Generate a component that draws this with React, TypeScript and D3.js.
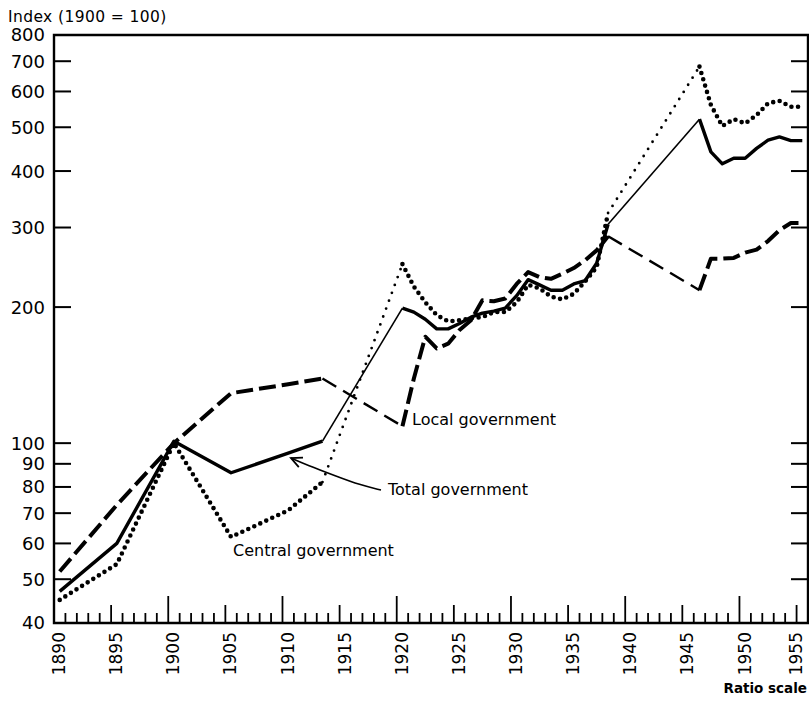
import React from 'react';
import { scaleLinear, scaleLog, line, range, curveBasis } from 'd3';

const years = [
  1890, 1895, 1900, 1905, 1910, 1913, 1920, 1921, 1922, 1923, 1924, 1925, 1926, 1927,
  1928, 1929, 1930, 1931, 1932, 1933, 1934, 1935, 1936, 1937, 1938, 1946, 1947, 1948,
  1949, 1950, 1951, 1952, 1953, 1954, 1955,
];

const totalGov = [
  47, 60, 101, 86, 95, 101, 199, 195, 188, 179, 179, 184, 190, 194,
  196, 199, 212, 230, 224, 218, 218, 225, 229, 250, 305, 521, 441, 415,
  427, 427, 449, 468, 476, 467, 467,
];

const centralGov = [
  45, 54, 100, 62, 71, 82, 249, 222, 205, 192, 186, 187, 189, 190,
  195, 195, 205, 224, 220, 211, 208, 214, 228, 245, 323, 681, 560, 503,
  521, 510, 532, 565, 572, 555, 555,
];

const localGov = [
  52, 73, 100, 129, 135, 139, 109, 139, 172, 162, 166, 178, 187, 207,
  206, 209, 225, 239, 233, 231, 237, 244, 254, 267, 287, 218, 256, 256,
  257, 264, 268, 280, 296, 307, 307,
];

// years after which the series has no annual data (drawn thin)
const gapStarts = [1913, 1938];

const yTicks = [40, 50, 60, 70, 80, 90, 100, 200, 300, 400, 500, 600, 700, 800];
const yearLabels = range(1890, 1956, 5);

const FONT = '"DejaVu Sans", sans-serif';

type Pt = [number, number];

function splitSegments(vals: number[]) {
  const segs: { thin: boolean; pts: Pt[] }[] = [];
  let cur: Pt[] = [[years[0], vals[0]]];
  for (let i = 1; i < years.length; i++) {
    if (gapStarts.includes(years[i - 1])) {
      segs.push({ thin: false, pts: cur });
      segs.push({
        thin: true,
        pts: [
          [years[i - 1], vals[i - 1]],
          [years[i], vals[i]],
        ],
      });
      cur = [[years[i], vals[i]]];
    } else {
      cur.push([years[i], vals[i]]);
    }
  }
  segs.push({ thin: false, pts: cur });
  return segs;
}

export default function App() {
  const left = 54;
  const right = 808;
  const top = 35;
  const bottom = 623;

  const x = scaleLinear().domain([1890, 1956]).range([left, right]);
  const y = scaleLog().domain([40, 800]).range([bottom, top]);

  const path = line<Pt>()
    .x((d) => x(d[0] + 0.5))
    .y((d) => y(d[1]));

  const styles = {
    total: {
      thick: { strokeWidth: 3.4 },
      thin: { strokeWidth: 1.6 },
    },
    central: {
      thick: { strokeWidth: 4.6, strokeDasharray: '0 6.6', strokeLinecap: 'round' as const },
      thin: { strokeWidth: 2.8, strokeDasharray: '0 8.4', strokeLinecap: 'round' as const },
    },
    local: {
      thick: { strokeWidth: 4, strokeDasharray: '17 6' },
      thin: { strokeWidth: 2.4, strokeDasharray: '16 8' },
    },
  };

  const series = [
    { key: 'local', vals: localGov, st: styles.local },
    { key: 'total', vals: totalGov, st: styles.total },
    { key: 'central', vals: centralGov, st: styles.central },
  ];

  // arrow from "Total government" label to its line
  const arrowPts: Pt[] = [
    [381, 490],
    [360, 485],
    [336, 476],
    [307, 465],
    [291, 458],
  ];
  const arrowLine = line<Pt>()
    .x((d) => d[0])
    .y((d) => d[1])
    .curve(curveBasis);
  const tip = arrowPts[arrowPts.length - 1];
  const prev = arrowPts[arrowPts.length - 2];
  const ang = Math.atan2(tip[1] - prev[1], tip[0] - prev[0]);
  const headLen = 12;
  const headA = 0.45;
  const head = [
    [tip[0] - headLen * Math.cos(ang - headA), tip[1] - headLen * Math.sin(ang - headA)],
    tip,
    [tip[0] - headLen * Math.cos(ang + headA), tip[1] - headLen * Math.sin(ang + headA)],
  ];

  return (
    <svg
      width={809}
      height={701}
      style={{ position: 'absolute', left: 0, top: 0, background: '#fff' }}
      fontFamily={FONT}
    >
      <rect width={809} height={701} fill="#fff" />

      {/* frame */}
      <path
        d={`M${left},${bottom}V${top}H${right}V${bottom}Z`}
        fill="none"
        stroke="#000"
        strokeWidth={2.4}
      />

      {/* y ticks, both sides */}
      {yTicks.map((t) => (
        <g key={t}>
          {t !== 40 && t !== 800 && (
            <>
              <line x1={left} x2={left + 17} y1={y(t)} y2={y(t)} stroke="#000" strokeWidth={2} />
              <line x1={right} x2={right - 17} y1={y(t)} y2={y(t)} stroke="#000" strokeWidth={2} />
            </>
          )}
          <text
            x={45}
            y={y(t)}
            dy="0.36em"
            textAnchor="end"
            fontSize={18}
            fill="#000"
          >
            {t}
          </text>
        </g>
      ))}

      {/* x ticks */}
      {range(1891, 1956).map((yr) => {
        const h = yr % 10 === 0 ? 27 : yr % 5 === 0 ? 18 : 10;
        return (
          <line
            key={yr}
            x1={x(yr)}
            x2={x(yr)}
            y1={bottom}
            y2={bottom - h}
            stroke="#000"
            strokeWidth={1.8}
          />
        );
      })}
      {yearLabels.map((yr) => (
        <text
          key={yr}
          transform={`translate(${Math.min(x(yr) + 5, 796)},632) rotate(-90)`}
          dy="0.36em"
          textAnchor="end"
          fontSize={17}
          fill="#000"
        >
          {yr}
        </text>
      ))}

      {/* series */}
      {series.map((s) =>
        splitSegments(s.vals).map((seg, i) => (
          <path
            key={s.key + i}
            d={path(seg.pts) || ''}
            fill="none"
            stroke="#000"
            strokeLinejoin="round"
            {...(seg.thin ? s.st.thin : s.st.thick)}
          />
        ))
      )}

      {/* annotations */}
      <text x={412} y={425} fontSize={16} fill="#000">
        Local government
      </text>
      <text x={388} y={495} fontSize={16} fill="#000">
        Total government
      </text>
      <text x={233} y={556} fontSize={16} fill="#000">
        Central government
      </text>
      <path d={arrowLine(arrowPts) || ''} fill="none" stroke="#000" strokeWidth={1.6} />
      <path
        d={`M${head[0][0]},${head[0][1]}L${head[1][0]},${head[1][1]}L${head[2][0]},${head[2][1]}`}
        fill="none"
        stroke="#000"
        strokeWidth={1.8}
      />

      <text x={8} y={22} fontSize={15.5} fill="#000" letterSpacing={0.4}>
        Index (1900 = 100)
      </text>
      <text x={807} y={693} fontSize={13.5} fontWeight="bold" textAnchor="end" fill="#000">
        Ratio scale
      </text>
    </svg>
  );
}
